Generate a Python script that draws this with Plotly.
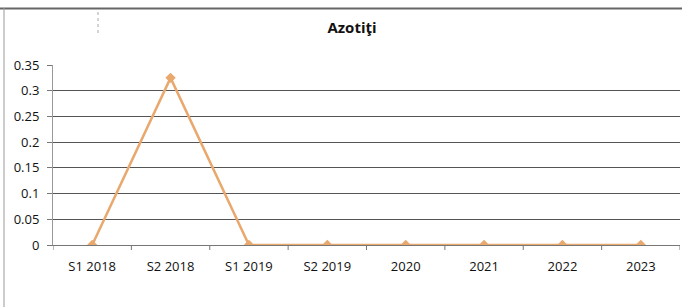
import plotly.graph_objects as go

categories = ["S1 2018", "S2 2018", "S1 2019", "S2 2019", "2020", "2021", "2022", "2023"]
values = [0, 0.325, 0, 0, 0, 0, 0, 0]
y_ticks = [0, 0.05, 0.1, 0.15, 0.2, 0.25, 0.3, 0.35]
y_tick_labels = ["0", "0.05", "0.1", "0.15", "0.2", "0.25", "0.3", "0.35"]
title_text = "Azotiţi"

W, H = 682, 307
L, R, T, B = 53, 2, 65, 62
pw, ph = W - L - R, H - T - B

def px_to_paper_x(px):
    return (px - L) / pw

def px_to_paper_y(py):
    return (H - B - py) / ph

fig = go.Figure()
fig.add_trace(go.Scatter(
    x=list(range(len(categories))), y=values,
    mode="lines+markers",
    line=dict(color="#E9A86E", width=2.5),
    marker=dict(symbol="diamond", size=8, color="#E9A86E"),
    hoverinfo="skip", showlegend=False,
))

fig.update_layout(
    width=W, height=H,
    margin=dict(l=L, r=R, t=T, b=B),
    paper_bgcolor="white", plot_bgcolor="white",
    font=dict(family="Open Sans, Liberation Sans, sans-serif", color="#111111", size=13),
    title=dict(text="<b>" + title_text + "</b>", x=352 / W,
               xanchor="center", y=1 - 28 / H, yanchor="middle",
               font=dict(size=15, color="#111111")),
    xaxis=dict(
        range=[-0.5, len(categories) - 0.5],
        tickmode="array", tickvals=list(range(len(categories))), ticktext=categories,
        showgrid=False, zeroline=False,
        showline=True, linecolor="#777777", linewidth=1,
        ticks="", tickfont=dict(size=13), ticklabelstandoff=9,
    ),
    yaxis=dict(
        range=[0, 0.35],
        tickmode="array", tickvals=y_ticks, ticktext=y_tick_labels,
        showgrid=True, gridcolor="#555555", gridwidth=1,
        zeroline=False, showline=True, linecolor="#999999", linewidth=1,
        ticks="outside", ticklen=5, tickcolor="#777777",
        tickfont=dict(size=13), ticklabelstandoff=5,
    ),
)

shapes = []
for i in range(len(categories) + 1):
    shapes.append(dict(type="line", xref="x", yref="paper",
                       x0=i - 0.5, x1=i - 0.5, y0=0, y1=-5 / ph,
                       line=dict(color="#777777", width=1)))
shapes.append(dict(type="line", xref="paper", yref="paper",
                   x0=px_to_paper_x(0), x1=px_to_paper_x(W), y0=px_to_paper_y(8.5), y1=px_to_paper_y(8.5),
                   line=dict(color="#666666", width=2)))
shapes.append(dict(type="line", xref="paper", yref="paper",
                   x0=px_to_paper_x(4), x1=px_to_paper_x(4), y0=px_to_paper_y(8), y1=px_to_paper_y(H),
                   line=dict(color="#999999", width=1)))
shapes.append(dict(type="line", xref="paper", yref="paper",
                   x0=px_to_paper_x(98), x1=px_to_paper_x(98), y0=px_to_paper_y(12), y1=px_to_paper_y(34),
                   line=dict(color="#aaaaaa", width=1, dash="dot")))
fig.update_layout(shapes=shapes)

fig.write_html("out.html", config={"displayModeBar": False},
               post_script="document.body.style.margin='0';")
